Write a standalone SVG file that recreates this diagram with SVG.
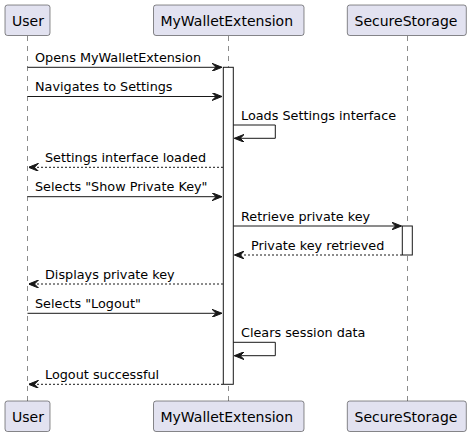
<svg xmlns="http://www.w3.org/2000/svg" width="472" height="437" viewBox="0 0 472 437">
<style>
.part{fill:#E2E2F0;stroke:#181818;stroke-width:0.5}
.ptext{font-family:"DejaVu Sans",sans-serif;font-size:14px;fill:#000}
.life{stroke:#181818;stroke-width:0.5;stroke-dasharray:5,5;fill:none}
.act{fill:#FFFFFF;stroke:#181818;stroke-width:1}
.msg{stroke:#181818;stroke-width:1;fill:none;marker-end:url(#ah)}
.ret{stroke:#181818;stroke-width:1;fill:none;stroke-dasharray:2,2;marker-end:url(#ah)}
.mtext{font-family:"DejaVu Sans",sans-serif;font-size:12.8px;fill:#000}
</style>
<defs>
<marker id="ah" viewBox="0 0 10 8" refX="10" refY="4" markerWidth="10" markerHeight="8" markerUnits="userSpaceOnUse" orient="auto">
<path d="M0,0 L10,4 L0,8 L4,4 Z" fill="#181818" stroke="#181818" stroke-width="1" stroke-linejoin="miter"/>
</marker>
</defs>
<rect width="472" height="437" fill="#FFFFFF"/>
<g id="lifelines">
<line class="life" x1="27.5" y1="36" x2="27.5" y2="401"/>
<line class="life" x1="228.5" y1="36" x2="228.5" y2="401"/>
<line class="life" x1="407.5" y1="36" x2="407.5" y2="401"/>
</g>
<g id="activations">
<rect class="act" x="223.3" y="67.3" width="10" height="317"/>
<rect class="act" x="402.3" y="226" width="10" height="29"/>
</g>
<g id="User">
<rect class="part" x="5" y="5" width="45" height="30.5" rx="2.5"/>
<text class="ptext" x="12" y="25.5">User</text>
<rect class="part" x="5" y="401" width="45" height="30.5" rx="2.5"/>
<text class="ptext" x="12" y="421.5">User</text>
</g>
<g id="MyWalletExtension">
<rect class="part" x="153.5" y="5" width="150.5" height="30.5" rx="2.5"/>
<text class="ptext" x="160.5" y="25.5">MyWalletExtension</text>
<rect class="part" x="153.5" y="401" width="150.5" height="30.5" rx="2.5"/>
<text class="ptext" x="160.5" y="421.5">MyWalletExtension</text>
</g>
<g id="SecureStorage">
<rect class="part" x="347.3" y="5" width="119" height="30.5" rx="2.5"/>
<text class="ptext" x="354.5" y="25.5">SecureStorage</text>
<rect class="part" x="347.3" y="401" width="119" height="30.5" rx="2.5"/>
<text class="ptext" x="354.5" y="421.5">SecureStorage</text>
</g>
<g id="connectors">
<line class="msg" x1="27.5" y1="67.3" x2="222" y2="67.3"/>
<text class="mtext" x="35" y="62">Opens MyWalletExtension</text>
<line class="msg" x1="27.5" y1="96.5" x2="222" y2="96.5"/>
<text class="mtext" x="35" y="91.2">Navigates to Settings</text>
<polyline class="msg" points="233.3,125 275.3,125 275.3,138.3 234.3,138.3"/>
<text class="mtext" x="241" y="120">Loads Settings interface</text>
<line class="ret" x1="223" y1="167.3" x2="28.5" y2="167.3"/>
<text class="mtext" x="45" y="162">Settings interface loaded</text>
<line class="msg" x1="27.5" y1="196.7" x2="222" y2="196.7"/>
<text class="mtext" x="35" y="191.4">Selects "Show Private Key"</text>
<line class="msg" x1="233.3" y1="226" x2="401.5" y2="226"/>
<text class="mtext" x="241" y="220.7">Retrieve private key</text>
<line class="ret" x1="402" y1="255" x2="234.3" y2="255"/>
<text class="mtext" x="251" y="249.7">Private key retrieved</text>
<line class="ret" x1="223" y1="284" x2="28.5" y2="284"/>
<text class="mtext" x="45" y="278.7">Displays private key</text>
<line class="msg" x1="27.5" y1="313.3" x2="222" y2="313.3"/>
<text class="mtext" x="35" y="308">Selects "Logout"</text>
<polyline class="msg" points="233.3,342.3 275.3,342.3 275.3,355.7 234.3,355.7"/>
<text class="mtext" x="241" y="337">Clears session data</text>
<line class="ret" x1="223" y1="384.3" x2="28.5" y2="384.3"/>
<text class="mtext" x="45" y="379">Logout successful</text>
</g>
</svg>
